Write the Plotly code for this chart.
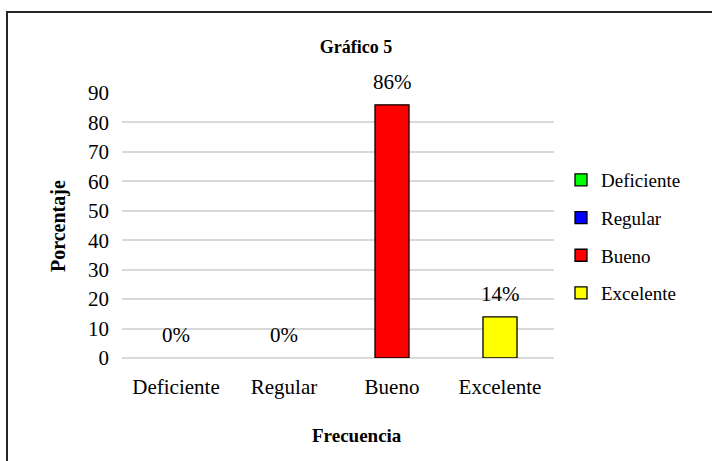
import plotly.graph_objects as go

categories = ["Deficiente", "Regular", "Bueno", "Excelente"]
values = [0, 0, 86, 14]
labels = ["0%", "0%", "86%", "14%"]
colors = ["#00ff00", "#0000ff", "#ff0000", "#ffff00"]
y_ticks = [0, 10, 20, 30, 40, 50, 60, 70, 80, 90]

FONT = "Liberation Serif, Times New Roman, serif"

fig = go.Figure()
for c, v, col in zip(categories, values, colors):
    fig.add_trace(go.Bar(
        x=[c], y=[v if v > 0 else None], name=c, width=0.315,
        marker=dict(color=col, line=dict(color="#000000", width=1.3)),
        legendgroup=c, showlegend=True,
    ))

L, R, T, B = 122, 554, 93, 358
W, H = R - L, B - T
def px(x): return (x - L) / W
def py(y): return (B - y) / H

annotations = []
for c, v, t in zip(categories, values, labels):
    annotations.append(dict(x=c, y=v, xref="x", yref="y", text=t, showarrow=False,
                            yanchor="middle", yshift=23,
                            font=dict(family=FONT, size=21, color="#000000")))
annotations.append(dict(x=px(357), y=py(435), xref="paper", yref="paper", text="<b>Frecuencia</b>",
                        showarrow=False, xanchor="center", yanchor="middle",
                        font=dict(family=FONT, size=19, color="#000000")))
annotations.append(dict(x=px(58), y=py(226), xref="paper", yref="paper", text="<b>Porcentaje</b>",
                        showarrow=False, xanchor="center", yanchor="middle", textangle=-90,
                        font=dict(family=FONT, size=20, color="#000000")))

fig.update_layout(
    width=712, height=461,
    margin=dict(l=L, r=712 - R, t=T, b=461 - B, autoexpand=False),
    paper_bgcolor="white", plot_bgcolor="white",
    barmode="overlay",
    title=dict(text="<b>Gráfico 5</b>", x=0.5, xanchor="center", y=1 - 47 / 461, yanchor="middle",
               font=dict(family=FONT, size=18, color="#000000")),
    font=dict(family=FONT, color="#000000"),
    xaxis=dict(categoryorder="array", categoryarray=categories, automargin=False,
               tickfont=dict(family=FONT, size=21, color="#000000"),
               showgrid=False, showline=False, ticks="", ticklabelstandoff=14),
    yaxis=dict(range=[0, 90], tickvals=y_ticks, ticktext=[str(t) for t in y_ticks], automargin=False,
               tickfont=dict(family=FONT, size=21, color="#000000"),
               showgrid=True, gridcolor="#d9d9d9", gridwidth=1.5,
               zeroline=True, zerolinecolor="#d9d9d9", zerolinewidth=1.5,
               showline=False, ticks="", ticklabelstandoff=12),
    legend=dict(x=px(561), y=py(161), xanchor="left", yanchor="top",
                font=dict(family=FONT, size=19, color="#000000"),
                tracegroupgap=10, itemwidth=30, bgcolor="rgba(0,0,0,0)"),
    annotations=annotations,
    shapes=[dict(type="rect", xref="paper", yref="paper",
                 x0=px(7), x1=px(720), y0=py(12), y1=py(470),
                 line=dict(color="#262626", width=2), fillcolor="rgba(0,0,0,0)", layer="below")],
    showlegend=True,
)

fig.write_html("out.html", config={"displayModeBar": False},
               post_script="document.body.style.margin='0';")
